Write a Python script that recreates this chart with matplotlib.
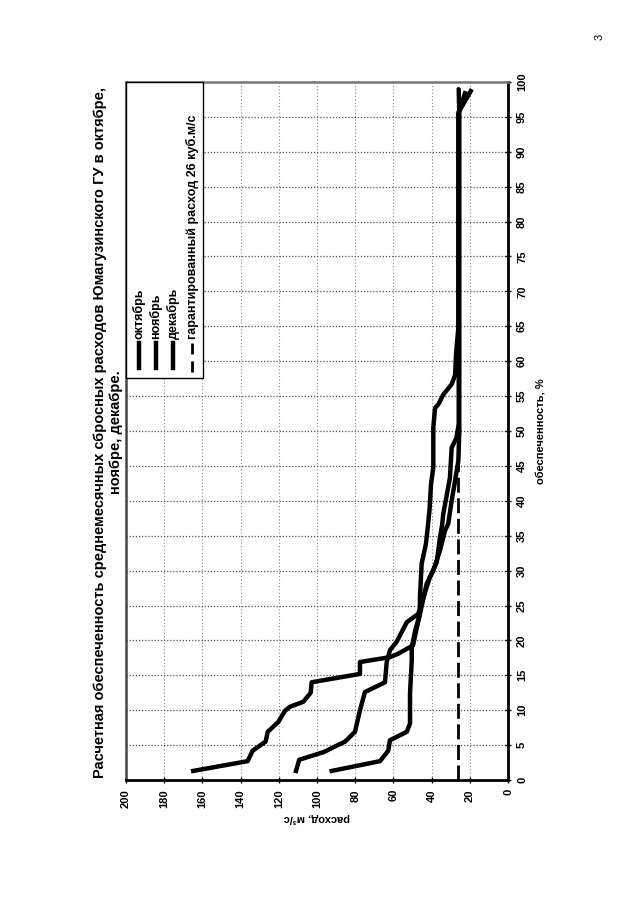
import matplotlib
matplotlib.use("Agg")
import matplotlib.pyplot as plt
from matplotlib.patches import Rectangle
from matplotlib.lines import Line2D

plt.rcParams['font.family'] = ['Liberation Sans', 'DejaVu Sans']
plt.rcParams['font.weight'] = 'bold'
plt.rcParams['axes.labelweight'] = 'bold'

# обеспеченность (%) и расход (м3/с)
oct_prob = [1.3, 2.7, 4.2, 5.5, 6.9, 8.3, 9.9, 10.5, 11.2, 12.5, 14.0, 15.2, 16.9, 17.6, 18.1,
            19.3, 21.5, 23.8, 26.2, 31.0, 33.8, 36.2, 39.0, 42.4, 44.8, 50.5, 53.3, 53.8, 55.2,
            56.7, 58.0, 61.0, 64.8, 95.5, 98.4]
oct_flow = [164.8, 136.3, 133.7, 126.9, 125.8, 120.3, 116.8, 114.1, 107.2, 103.3, 102.8, 77.5, 77.5,
            61.8, 57.4, 49.7, 48.0, 46.1, 46.1, 45.2, 43.0, 42.0, 41.0, 40.3, 39.1, 39.1, 38.2, 36.5,
            33.9, 29.5, 27.7, 27.2, 26.0, 26.0, 22.5]

nov_prob = [1.3, 2.9, 4.0, 5.5, 6.9, 10.0, 12.6, 14.0, 16.9, 18.6, 19.8, 22.6, 23.8, 29.0, 31.2,
            34.8, 36.5, 38.1, 43.3, 47.6, 49.0, 51.0, 95.7, 98.7]
nov_flow = [111.0, 109.3, 96.5, 85.3, 80.1, 77.5, 74.9, 64.4, 63.5, 61.8, 58.3, 53.0, 47.0, 41.0,
            37.3, 35.6, 34.5, 33.9, 30.4, 29.5, 27.0, 25.8, 25.8, 19.5]

dec_prob = [1.3, 2.7, 4.2, 5.7, 6.9, 8.1, 12.4, 17.1, 19.0, 21.5, 23.8, 28.1, 30.0, 32.9, 35.7,
            36.7, 40.0, 42.9, 45.7, 50.0, 95.5, 98.8]
dec_flow = [92.3, 67.0, 62.7, 61.8, 53.0, 51.3, 51.3, 50.4, 50.4, 48.5, 46.1, 42.6, 39.1, 35.6,
            33.0, 31.3, 29.5, 27.7, 26.0, 25.5, 25.5, 25.8]

guaranteed_flow = 26

labels = ['октябрь', 'ноябрь', 'декабрь', 'гарантированный расход 26 куб.м/с']
flow_ticks = list(range(0, 201, 20))
prob_ticks = list(range(0, 101, 5))

W, H = 640, 905


def fx(x):
    return x / W


def fy(y):
    return 1 - y / H


fig = plt.figure(figsize=(W / 100, H / 100), dpi=100)
ax = fig.add_axes([fx(126), fy(780), (508 - 126) / W, (780 - 82) / H])

# страница повернута: расход по горизонтали (справа налево), обеспеченность по вертикали
for flow, prob in [(oct_flow, oct_prob), (nov_flow, nov_prob), (dec_flow, dec_prob)]:
    ax.plot(flow, prob, color='black', lw=3.2, solid_joinstyle='round', zorder=3)
ax.axvline(guaranteed_flow, color='black', lw=2, linestyle=(0, (5.4, 2.0)), zorder=2)

ax.set_xlim(200, 0)
ax.set_ylim(0, 100)
ax.set_xticks(flow_ticks)
ax.set_yticks(prob_ticks)
ax.yaxis.tick_right()
ax.tick_params(axis='both', direction='inout', length=5, width=1, labelsize=8)
ax.tick_params(axis='x', labelrotation=90, pad=4)
ax.tick_params(axis='y', labelrotation=90, pad=4)
for lbl in ax.get_yticklabels():
    lbl.set_va('center')

ax.grid(True, axis='x', linestyle=(0, (1, 2)), color='#8a8a8a', lw=0.8)
ax.grid(True, axis='y', linestyle=(0, (1, 1.5)), color='#555555', lw=0.9)

for side in ['bottom', 'right']:
    ax.spines[side].set_linewidth(2)
    ax.spines[side].set_color('black')
ax.spines['left'].set_linewidth(1.8)
ax.spines['left'].set_color('#444444')
ax.spines['top'].set_linewidth(1.8)
ax.spines['top'].set_color('#777777')

ax.set_xlabel('расход, м³/с', rotation=180, fontsize=8, labelpad=4)
ax.yaxis.set_label_position('right')
ax.set_ylabel('обеспеченность, %', rotation=90, fontsize=8, labelpad=14, va='bottom')

# заголовок
fig.text(fx(108), fy(432),
         'Расчетная обеспеченность среднемесячных сбросных расходов Юмагузинского ГУ в октябре,\n'
         'ноябре, декабре.',
         rotation=90, ha='center', va='center', ma='center', fontsize=10.5, linespacing=1.25)

# легенда (вручную, повернута вместе с графиком)
fig.add_artist(Rectangle((fx(126), fy(378)), (203 - 126) / W, (378 - 82) / H,
                         transform=fig.transFigure, facecolor='white', edgecolor='black', lw=1))
entry_x = [139, 156, 173, 192]
for i, (lab, x) in enumerate(zip(labels, entry_x)):
    if i < 3:
        fig.add_artist(Line2D([fx(x), fx(x)], [fy(368), fy(343)], transform=fig.transFigure,
                              color='black', lw=3.2))
    else:
        fig.add_artist(Line2D([fx(x), fx(x)], [fy(372), fy(343)], transform=fig.transFigure,
                              color='black', lw=2, linestyle=(0, (4, 2.5))))
    fig.text(fx(x), fy(339), lab, rotation=90, rotation_mode='anchor',
             ha='left', va='center', fontsize=9)

fig.text(fx(600), fy(37), '3', rotation=90, ha='center', va='center', fontsize=8, weight='normal')

fig.savefig('out.png', dpi=100)
